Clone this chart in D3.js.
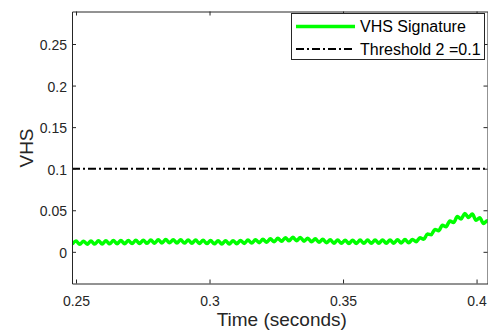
<!DOCTYPE html>
<html>
<head>
<meta charset="utf-8">
<script src="https://cdn.jsdelivr.net/npm/d3@7"></script>
<style>
  body { margin: 0; background: #fff; }
  text { font-family: "Liberation Sans", Arial, Helvetica, sans-serif; }
</style>
</head>
<body>
<div id="chart"></div>
<script>
var width = 488;
var height = 333;

// sample times (s) of the VHS signature, peaks and troughs of the ripple
var times = [
  0.2486, 0.2500, 0.2514, 0.2528, 0.2542, 0.2556, 0.2570, 0.2584, 0.2598, 0.2612,
  0.2626, 0.2640, 0.2654, 0.2668, 0.2682, 0.2696, 0.2710, 0.2724, 0.2738, 0.2752,
  0.2766, 0.2780, 0.2794, 0.2808, 0.2822, 0.2836, 0.2850, 0.2864, 0.2878, 0.2892,
  0.2906, 0.2920, 0.2934, 0.2948, 0.2962, 0.2976, 0.2990, 0.3004, 0.3018, 0.3032,
  0.3046, 0.3060, 0.3074, 0.3088, 0.3102, 0.3116, 0.3130, 0.3144, 0.3158, 0.3172,
  0.3186, 0.3200, 0.3214, 0.3228, 0.3242, 0.3256, 0.3270, 0.3284, 0.3298, 0.3312,
  0.3326, 0.3340, 0.3354, 0.3368, 0.3382, 0.3396, 0.3410, 0.3424, 0.3438, 0.3452,
  0.3466, 0.3480, 0.3494, 0.3508, 0.3522, 0.3536, 0.3550, 0.3564, 0.3578, 0.3592,
  0.3606, 0.3620, 0.3634, 0.3648, 0.3662, 0.3676, 0.3690, 0.3704, 0.3718, 0.3732,
  0.3746, 0.3760, 0.3774, 0.3788, 0.3802, 0.3816, 0.3830, 0.3844, 0.3858, 0.3872,
  0.3886, 0.3900, 0.3914, 0.3928, 0.3942, 0.3956, 0.3970, 0.3984, 0.3998, 0.4012,
  0.4026, 0.4040, 0.4054
];

var vhs = [
  0.0091, 0.0129, 0.0090, 0.0128, 0.0092, 0.0130, 0.0093, 0.0132, 0.0094, 0.0133,
  0.0096, 0.0135, 0.0098, 0.0136, 0.0097, 0.0135, 0.0099, 0.0138, 0.0100, 0.0139,
  0.0102, 0.0141, 0.0104, 0.0145, 0.0107, 0.0147, 0.0109, 0.0145, 0.0106, 0.0144,
  0.0105, 0.0142, 0.0103, 0.0141, 0.0101, 0.0139, 0.0099, 0.0136, 0.0096, 0.0133,
  0.0094, 0.0132, 0.0095, 0.0134, 0.0097, 0.0137, 0.0101, 0.0141, 0.0105, 0.0145,
  0.0110, 0.0150, 0.0114, 0.0156, 0.0120, 0.0162, 0.0126, 0.0169, 0.0132, 0.0175,
  0.0134, 0.0172, 0.0128, 0.0164, 0.0120, 0.0156, 0.0114, 0.0150, 0.0108, 0.0144,
  0.0104, 0.0141, 0.0102, 0.0140, 0.0101, 0.0140, 0.0101, 0.0141, 0.0102, 0.0141,
  0.0102, 0.0142, 0.0103, 0.0142, 0.0103, 0.0143, 0.0104, 0.0144, 0.0106, 0.0147,
  0.0108, 0.0149, 0.0122, 0.0168, 0.0151, 0.0214, 0.0205, 0.0270, 0.0254, 0.0321,
  0.0303, 0.0372, 0.0352, 0.0424, 0.0395, 0.0460, 0.0413, 0.0455, 0.0380, 0.0410,
  0.0340, 0.0375, 0.0315
];

var threshold = 0.1;
var xTicks = [0.25, 0.3, 0.35, 0.4];
var yTicks = [0, 0.05, 0.1, 0.15, 0.2, 0.25];
var legendLabels = ["VHS Signature", "Threshold 2 =0.1"];

var plot = {left: 72, right: 487.5, top: 11.5, bottom: 283.5};
var axisColor = "#262626";

var x = d3.scaleLinear().domain([0.2485, 0.4041]).range([plot.left, plot.right]);
var y = d3.scaleLinear().domain([-0.0381, 0.2891]).range([plot.bottom, plot.top]);

var svg = d3.select("#chart")
  .append("svg")
    .attr("width", width)
    .attr("height", height)
    .style("background-color", "#fff");

// clip the curves to the axes box
svg.append("clipPath").attr("id", "clip")
  .append("rect")
    .attr("x", plot.left).attr("y", plot.top)
    .attr("width", plot.right - plot.left).attr("height", plot.bottom - plot.top);

var series = times.map(function(t, i) { return {t: t, v: vhs[i]}; });

var line = d3.line()
  .x(function(d) { return x(d.t); })
  .y(function(d) { return y(d.v); })
  .curve(d3.curveMonotoneX);

var g = svg.append("g").attr("clip-path", "url(#clip)");

g.append("path")
  .datum(series)
  .attr("fill", "none")
  .attr("stroke", "#00ff00")
  .attr("stroke-width", 3.5)
  .attr("stroke-linejoin", "round")
  .attr("d", line);

g.append("line")
  .attr("x1", plot.left).attr("x2", plot.right)
  .attr("y1", y(threshold)).attr("y2", y(threshold))
  .attr("stroke", "#000")
  .attr("stroke-width", 2)
  .attr("stroke-dasharray", "8,3,2,3");

// axes box with ticks on all four sides (inward)
var axes = svg.append("g");

var bottomAxis = d3.axisBottom(x).tickValues(xTicks).tickSizeInner(-4).tickSizeOuter(0)
  .tickFormat(d3.format("~g"));
var topAxis = d3.axisTop(x).tickValues(xTicks).tickSizeInner(-4).tickSizeOuter(0)
  .tickFormat("");
var leftAxis = d3.axisLeft(y).tickValues(yTicks).tickSizeInner(-4).tickSizeOuter(0)
  .tickFormat(d3.format("~g"));
var rightAxis = d3.axisRight(y).tickValues(yTicks).tickSizeInner(-4).tickSizeOuter(0)
  .tickFormat("");

function styleAxis(sel) {
  sel.selectAll("path, line").attr("stroke", axisColor);
  sel.selectAll("text")
    .attr("fill", axisColor)
    .style("font-size", "14px");
}

axes.append("g").attr("transform", "translate(0," + plot.bottom + ")")
  .call(bottomAxis).call(styleAxis)
  .selectAll("text").attr("dy", "0").attr("y", 22);

axes.append("g").attr("transform", "translate(0," + plot.top + ")")
  .call(topAxis).call(styleAxis);

axes.append("g").attr("transform", "translate(" + plot.left + ",0)")
  .call(leftAxis).call(styleAxis)
  .selectAll("text").attr("x", -5).attr("dy", "0.4em");

axes.append("g").attr("transform", "translate(" + plot.right + ",0)")
  .call(rightAxis).call(styleAxis);

axes.selectAll(".domain").attr("stroke-width", 1);

// axis titles
svg.append("text")
  .attr("x", (plot.left + plot.right) / 2 + 2)
  .attr("y", 326)
  .attr("text-anchor", "middle")
  .attr("fill", axisColor)
  .style("font-size", "19px")
  .text("Time (seconds)");

svg.append("text")
  .attr("transform", "translate(33,148) rotate(-90)")
  .attr("text-anchor", "middle")
  .attr("fill", axisColor)
  .style("font-size", "19px")
  .text("VHS");

// legend
var legend = svg.append("g");
legend.append("rect")
  .attr("x", 291.5).attr("y", 13.5)
  .attr("width", 193).attr("height", 46)
  .attr("fill", "#fff")
  .attr("stroke", axisColor)
  .attr("stroke-width", 1);

var legendRows = [
  {label: legendLabels[0], stroke: "#00ff00", width: 3.5, dash: null, cy: 26.5},
  {label: legendLabels[1], stroke: "#000", width: 2, dash: "8,3,2,3", cy: 49}
];

legendRows.forEach(function(r) {
  legend.append("line")
    .attr("x1", 296).attr("x2", 355)
    .attr("y1", r.cy).attr("y2", r.cy)
    .attr("stroke", r.stroke)
    .attr("stroke-width", r.width)
    .attr("stroke-dasharray", r.dash);
  legend.append("text")
    .attr("x", 360).attr("y", r.cy)
    .attr("dy", "0.36em")
    .attr("fill", "#000")
    .style("font-size", "16px")
    .text(r.label);
});
</script>
</body>
</html>
